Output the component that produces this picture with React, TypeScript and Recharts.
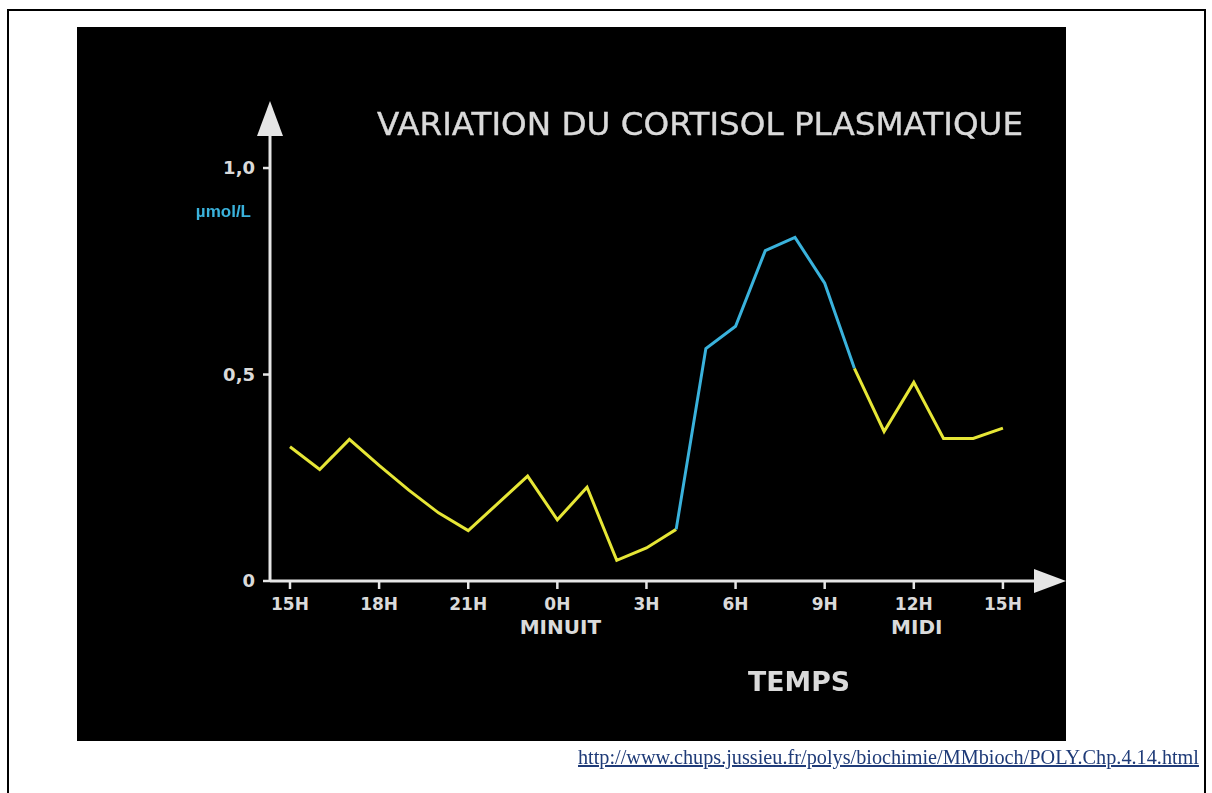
import React from "react";
import { LineChart, Line, XAxis, YAxis, ReferenceDot } from "recharts";

// ---- data ----
const clockLabels = [
  "15H", "16H", "17H", "18H", "19H", "20H", "21H", "22H", "23H", "0H", "1H", "2H", "3H",
  "4H", "5H", "6H", "7H", "8H", "9H", "10H", "11H", "12H", "13H", "14H", "15H",
];
const cortisol = [
  0.325, 0.27, 0.343, 0.28, 0.22, 0.165, 0.122, 0.188, 0.254, 0.148, 0.227, 0.05, 0.08,
  0.125, 0.563, 0.617, 0.8, 0.832, 0.721, 0.515, 0.362, 0.481, 0.345, 0.345, 0.37,
];
const peakFrom = 13; // 4H
const peakTo = 19; // 10H
const xTicks = [0, 3, 6, 9, 12, 15, 18, 21, 24];
const xTickLabels = ["15H", "18H", "21H", "0H", "3H", "6H", "9H", "12H", "15H"];
const xTickNotes = ["", "", "", "MINUIT", "", "", "", "MIDI", ""];
const yTicks = [0, 0.5, 1.0];
const yTickLabels = ["0", "0,5", "1,0"];

const X_MIN = -0.673;
const X_MAX = 25.08;
const Y_MAX = 1.08;

const data = cortisol.map((v, i) => ({
  h: i,
  label: clockLabels[i],
  day: i <= peakFrom || i >= peakTo ? v : null,
  peak: i >= peakFrom && i <= peakTo ? v : null,
}));

const AXIS = "#e6e6e6";
const TEXT = "#dadada";
const YELLOW = "#e6e636";
const BLUE = "#3ab2dc";
const TICK_FONT = "'DejaVu Sans', sans-serif";

const XTick = (props: any) => {
  const { x, y, payload } = props;
  const i = xTicks.indexOf(payload.value);
  return (
    <g>
      <text x={x} y={y} dy={19} textAnchor="middle" fill={TEXT} fontFamily={TICK_FONT} fontWeight="bold" fontSize={17}>
        {xTickLabels[i]}
      </text>
      {xTickNotes[i] ? (
        <text x={x + 3} y={y} dy={43} textAnchor="middle" fill={TEXT} fontFamily={TICK_FONT} fontWeight="bold" fontSize={20}>
          {xTickNotes[i]}
        </text>
      ) : null}
    </g>
  );
};

const RightArrow = (p: any) => (
  <polygon points={`${p.cx - 1},${p.cy - 12} ${p.cx + 31},${p.cy} ${p.cx - 1},${p.cy + 12}`} fill={AXIS} />
);
const UpArrow = (p: any) => (
  <polygon points={`${p.cx - 13},${p.cy + 1} ${p.cx},${p.cy - 34} ${p.cx + 13},${p.cy + 1}`} fill={AXIS} />
);

export default function App() {
  return (
    <div style={{ position: "relative", width: 1196, height: 777 }}>
      <div
        style={{
          position: "fixed",
          left: 7,
          top: 9,
          right: 6,
          bottom: -20,
          border: "2px solid #000",
          boxSizing: "border-box",
        }}
      />
      <div style={{ position: "absolute", left: 69, top: 19, width: 989, height: 714, background: "#000" }}>
        <LineChart width={989} height={714} data={data} margin={{ top: 108, right: 31, bottom: 100, left: 133 }}>
          <XAxis
            dataKey="h"
            type="number"
            domain={[X_MIN, X_MAX]}
            allowDataOverflow
            ticks={xTicks}
            interval={0}
            height={60}
            axisLine={{ stroke: AXIS, strokeWidth: 3 }}
            tickLine={{ stroke: AXIS, strokeWidth: 2.5 }}
            tickSize={8}
            tickMargin={2}
            tick={<XTick />}
          />
          <YAxis
            type="number"
            domain={[0, Y_MAX]}
            allowDataOverflow
            ticks={yTicks}
            interval={0}
            width={60}
            axisLine={{ stroke: AXIS, strokeWidth: 3 }}
            tickLine={{ stroke: AXIS, strokeWidth: 2.5 }}
            tickSize={7}
            tickMargin={8}
            tickFormatter={(v: number) => yTickLabels[yTicks.indexOf(v)]}
            tick={{ fill: TEXT, fontFamily: TICK_FONT, fontWeight: "bold", fontSize: 18 }}
          />
          <Line type="linear" dataKey="day" stroke={YELLOW} strokeWidth={3} dot={false} connectNulls={false} isAnimationActive={false} />
          <Line type="linear" dataKey="peak" stroke={BLUE} strokeWidth={3} dot={false} connectNulls={false} isAnimationActive={false} />
          <ReferenceDot x={X_MAX} y={0} r={1} ifOverflow="visible" shape={<RightArrow />} />
          <ReferenceDot x={X_MIN} y={Y_MAX} r={1} ifOverflow="visible" shape={<UpArrow />} />
        </LineChart>
      </div>
      <svg
        width={1212}
        height={793}
        style={{ position: "fixed", left: 0, top: 0, pointerEvents: "none" }}
      >
        <text x={377} y={135} fill={TEXT} fontFamily="'DejaVu Sans', sans-serif" fontSize={32} textLength={646} lengthAdjust="spacingAndGlyphs" stroke={TEXT} strokeWidth={0.4}>
          VARIATION DU CORTISOL PLASMATIQUE
        </text>
        <text x={251} y={217} textAnchor="end" fill={BLUE} fontFamily="'Liberation Sans', sans-serif" fontWeight="bold" fontSize={17}>
          µmol/L
        </text>
        <text x={748} y={691} fill={TEXT} fontFamily="'DejaVu Sans', sans-serif" fontWeight="bold" fontSize={27} textLength={102} lengthAdjust="spacingAndGlyphs">
          TEMPS
        </text>
        <text
          x={578}
          y={764}
          fill="#1f3b78"
          fontFamily="'Liberation Serif', 'Times New Roman', serif"
          fontSize={20}
          textLength={621}
          lengthAdjust="spacingAndGlyphs"
          textDecoration="underline"
          style={{ textDecoration: "underline" }}
        >
          http://www.chups.jussieu.fr/polys/biochimie/MMbioch/POLY.Chp.4.14.html
        </text>
      </svg>
    </div>
  );
}
